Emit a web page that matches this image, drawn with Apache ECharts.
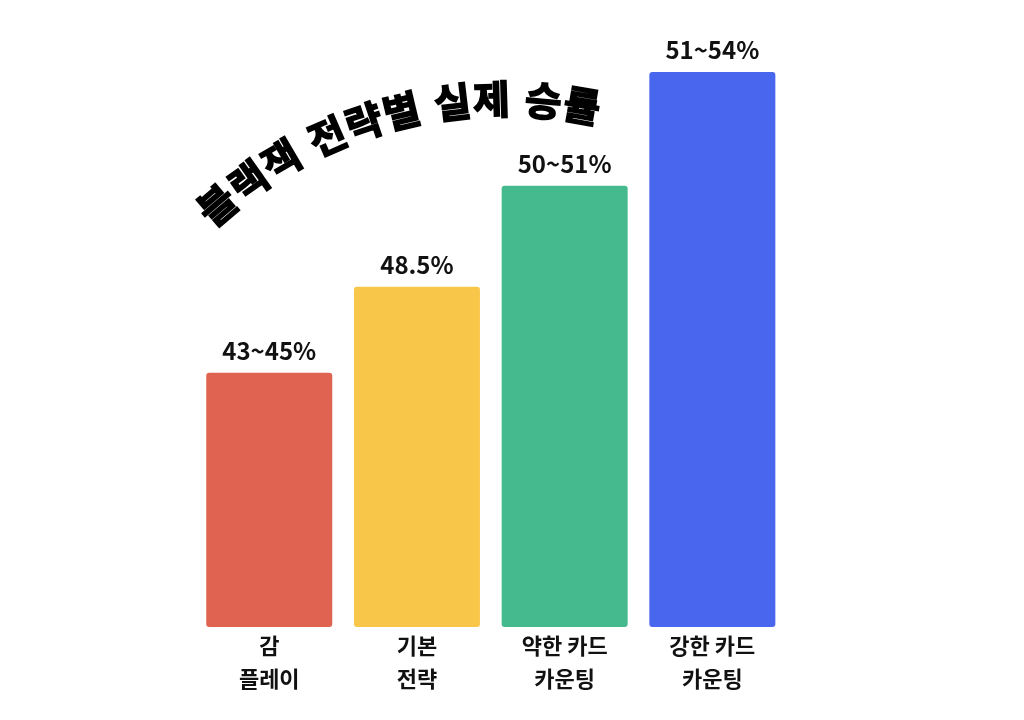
<!DOCTYPE html>
<html>
<head>
<meta charset="utf-8">
<script src="https://cdn.jsdelivr.net/npm/echarts@6/dist/echarts.min.js"></script>
<style>
html,body{margin:0;padding:0;background:#fff;}
#c{width:1024px;height:720px;}
</style>
</head>
<body>
<div id="c"></div>
<script>
// ---- data ----
const categories = ['감\n플레이', '기본\n전략', '약한 카드\n카운팅', '강한 카드\n카운팅'];
// relative bar heights as drawn in the infographic (tallest = 100)
const barHeights = [45.8, 61.3, 79.5, 100];
const valueLabels = ['43~45%', '48.5%', '50~51%', '51~54%'];
const barColors = ['#E06251', '#F8C74A', '#45BA8E', '#4867EE'];
const titleText = '블랙잭 전략별 실제 승률';

const FONT = '"Noto Sans CJK KR", "Noto Sans", sans-serif';

// ---- curved title along an arc ----
const arc = { cx: 505, cy: 543, r: 444, start: -40.4, charStep: 5.05, spaceStep: 6.7 };
const titleGraphics = [];
(function () {
  let ang = arc.start;
  let first = true;
  for (const ch of titleText) {
    if (ch === ' ') { ang += arc.spaceStep - arc.charStep; continue; }
    if (!first) ang += arc.charStep;
    first = false;
    const rad = ang * Math.PI / 180;
    titleGraphics.push({
      type: 'text',
      x: arc.cx + arc.r * Math.sin(rad),
      y: arc.cy - arc.r * Math.cos(rad),
      rotation: -rad,
      style: {
        text: ch,
        x: 0, y: 0,
        align: 'center',
        verticalAlign: 'middle',
        fill: '#000',
        stroke: '#000',
        lineWidth: 1.6,
        font: 'bold 40px ' + FONT
      }
    });
  }
})();

const chart = echarts.init(document.getElementById('c'), null, { renderer: 'canvas' });
chart.setOption({
  backgroundColor: '#ffffff',
  animation: false,
  grid: { left: 195.4, right: 237.8, top: 72, bottom: 93, containLabel: false },
  xAxis: {
    type: 'category',
    data: categories,
    axisLine: { show: false },
    axisTick: { show: false },
    axisLabel: {
      color: '#111',
      fontFamily: FONT,
      fontWeight: 'bold',
      fontSize: 22,
      lineHeight: 33,
      margin: 2,
      interval: 0
    }
  },
  yAxis: {
    type: 'value',
    min: 0,
    max: 100,
    show: false,
    splitLine: { show: false }
  },
  series: [{
    type: 'bar',
    barWidth: 126,
    data: barHeights.map((v, i) => ({
      value: v,
      itemStyle: { color: barColors[i], borderRadius: 3 }
    })),
    label: {
      show: true,
      position: 'top',
      distance: 10,
      color: '#111',
      fontFamily: FONT,
      fontWeight: 'bold',
      fontSize: 24,
      formatter: p => valueLabels[p.dataIndex]
    }
  }],
  graphic: titleGraphics
});
</script>
</body>
</html>
